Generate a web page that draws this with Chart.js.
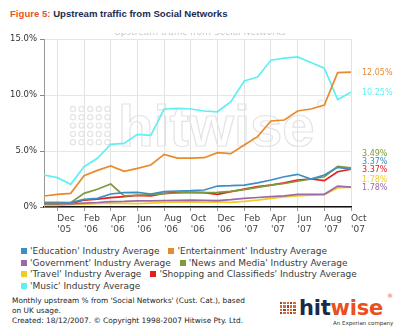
<!DOCTYPE html>
<html>
<head>
<meta charset="utf-8">
<script src="https://cdn.jsdelivr.net/npm/chart.js@4.4.1/dist/chart.umd.min.js"></script>
<style>
    body { margin: 0; background: #fff; }
    #page { position: relative; width: 400px; height: 335px; overflow: hidden; font-family: "DejaVu Sans", Verdana, sans-serif; }
    #heading { position: absolute; left: 0; top: 0; width: 400px; height: 33px; background: #fff; z-index: 2; }
    #heading .t { position: absolute; left: 10px; top: 8px; font: bold 9.6px "Liberation Sans", Arial, sans-serif; color: #1c2b4f; white-space: nowrap; }
    #heading .t b { color: #e8552a; }
    #chartBox { position: absolute; left: 0; top: 0; width: 400px; height: 240px; }
    #legend { position: absolute; left: 21px; top: 246px; width: 370px; font-size: 9px; line-height: 11.7px; color: #3a3a3a; }
    #legend .item { display: inline-block; margin-right: 9px; white-space: nowrap; }
    #legend .sw { display: inline-block; width: 6px; height: 6px; margin-right: 3px; vertical-align: 0px; }
    #footer { position: absolute; left: 12px; top: 296px; font-size: 7.4px; line-height: 10px; color: #222; white-space: nowrap; }
    #dots { position: absolute; left: 280px; top: 302px; width: 17px; height: 14px; }
    #dots i { position: absolute; width: 2.4px; height: 2.4px; }
    #logo { position: absolute; left: 299px; top: 298px; font: bold 21px/21px "DejaVu Sans", sans-serif; letter-spacing: -0.2px; color: #1b2a4a; }
    #logo span { color: #e8501e; }
    #reg { position: absolute; left: 387px; top: 292px; font-size: 6px; color: #e8501e; }
    #experian { position: absolute; left: 333px; top: 320px; font-size: 5.5px; color: #333; white-space: nowrap; }
</style>
</head>
<body>
<div id="page">
    <div id="heading"><div class="t"><b>Figure 5:</b> Upstream traffic from Social Networks</div></div>
    <div id="chartBox"><canvas id="trafficChart" width="400" height="240"></canvas></div>
    <div id="legend"></div>
    <div id="footer">Monthly upstream % from 'Social Networks' (Cust. Cat.), based<br>on UK usage.<br>Created: 18/12/2007. &copy; Copyright 1998-2007 Hitwise Pty. Ltd.</div>
    <div id="dots"></div>
    <div id="logo">hit<span>wise</span></div>
    <div id="reg">&reg;</div>
    <div id="experian">An Experian company</div>
</div>

<script>
// Months Nov '05 .. Oct '07
const months = [
    "Nov '05", "Dec '05", "Jan '06", "Feb '06", "Mar '06", "Apr '06", "May '06", "Jun '06",
    "Jul '06", "Aug '06", "Sep '06", "Oct '06", "Nov '06", "Dec '06", "Jan '07", "Feb '07",
    "Mar '07", "Apr '07", "May '07", "Jun '07", "Jul '07", "Aug '07", "Sep '07", "Oct '07"
];

const seriesNames = [
    "'Education' Industry Average",
    "'Entertainment' Industry Average",
    "'Government' Industry Average",
    "'News and Media' Industry Average",
    "'Travel' Industry Average",
    "'Shopping and Classifieds' Industry Average",
    "'Music' Industry Average"
];

// upstream share, %
const education     = [0.33, 0.33, 0.39, 0.68, 0.77, 1.16, 1.28, 1.31, 1.16, 1.37, 1.43, 1.46, 1.52, 1.87, 1.9, 1.96, 2.15, 2.41, 2.7, 2.92, 2.5, 2.86, 3.54, 3.37];
const entertainment = [0.98, 1.13, 1.22, 2.8, 3.27, 3.66, 3.18, 3.45, 3.75, 4.7, 4.37, 4.37, 4.4, 4.85, 4.76, 5.54, 6.28, 7.68, 7.77, 8.57, 8.75, 9.1, 12.0, 12.05];
const government    = [0.3, 0.3, 0.28, 0.35, 0.4, 0.48, 0.5, 0.55, 0.55, 0.57, 0.6, 0.62, 0.6, 0.57, 0.65, 0.77, 0.85, 0.92, 1.0, 1.13, 1.13, 1.13, 1.87, 1.78];
const newsMedia     = [0.42, 0.42, 0.39, 1.22, 1.58, 2.05, 1.0, 1.05, 1.1, 1.2, 1.25, 1.3, 1.28, 1.3, 1.4, 1.55, 1.75, 1.95, 2.1, 2.3, 2.5, 2.7, 3.62, 3.49];
const travel        = [0.15, 0.15, 0.2, 0.25, 0.3, 0.35, 0.33, 0.3, 0.35, 0.4, 0.43, 0.45, 0.42, 0.45, 0.42, 0.5, 0.62, 0.77, 0.9, 1.0, 1.06, 1.1, 1.7, 1.78];
const shopping      = [0.27, 0.25, 0.27, 0.62, 0.7, 0.83, 0.92, 1.04, 1.0, 1.22, 1.3, 1.3, 1.28, 1.13, 1.37, 1.6, 1.82, 1.96, 2.15, 2.41, 2.5, 2.35, 3.15, 3.37];
const music         = [2.86, 2.62, 2.02, 3.6, 4.35, 5.6, 5.68, 6.49, 6.4, 8.75, 8.8, 8.75, 8.57, 8.5, 9.4, 11.25, 11.6, 13.1, 13.3, 13.4, 12.9, 12.4, 9.6, 10.25];

const seriesValues = [education, entertainment, government, newsMedia, travel, shopping, music];
const seriesColors = ['#3d8ec4', '#ea8a2c', '#9b6aa6', '#7d9a3c', '#f2cc26', '#e41e1e', '#5ff0f2'];

const yTicks = [0, 5, 10, 15];

// order of the end-of-line value labels, top to bottom
const labelOrder = [1, 6, 3, 0, 5, 4, 2];

const FONT = '"DejaVu Sans", Verdana, sans-serif';

// faint hitwise watermark behind the lines
const watermark = {
    id: 'watermark',
    beforeDatasetsDraw(chart) {
        const ctx = chart.ctx;
        ctx.save();
        ctx.strokeStyle = '#e4e4e4';
        ctx.lineWidth = 1.2;
        for (let r = 0; r < 5; r++) {
            for (let c = 0; c < 5; c++) {
                ctx.beginPath();
                ctx.arc(73 + c * 8.6, 109 + r * 8.3, 2.6, 0, Math.PI * 2);
                ctx.stroke();
            }
        }
        ctx.font = 'bold 58px "Liberation Sans", Arial, sans-serif';
        ctx.strokeText('hitwise', 118, 146);
        ctx.beginPath();
        ctx.arc(322, 104, 4, 0, Math.PI * 2);
        ctx.stroke();
        ctx.restore();
    }
};

// faded chart caption, half hidden under the heading strip
const caption = {
    id: 'caption',
    afterDraw(chart) {
        const ctx = chart.ctx;
        ctx.save();
        ctx.fillStyle = '#c6c6c6';
        ctx.font = '9px ' + FONT;
        ctx.textAlign = 'center';
        ctx.textBaseline = 'middle';
        ctx.fillText('Upstream traffic from Social Networks', 200, 33);
        ctx.restore();
    }
};

// final values at the right edge, nudged apart so they don't overlap
const endLabels = {
    id: 'endLabels',
    afterDatasetsDraw(chart) {
        const { ctx, chartArea, scales } = chart;
        const items = labelOrder.map(i => {
            const v = seriesValues[i][seriesValues[i].length - 1];
            return { i, v, y: scales.y.getPixelForValue(v) + 1 };
        });
        for (let k = items.length - 2; k >= 0; k--) {
            items[k].y = Math.min(items[k].y, items[k + 1].y - 8);
        }
        ctx.save();
        ctx.font = '8px ' + FONT;
        ctx.textBaseline = 'middle';
        items.forEach(it => {
            ctx.fillStyle = seriesColors[it.i];
            ctx.fillText(it.v.toFixed(2) + '%', chartArea.right + 11, it.y);
        });
        ctx.restore();
    }
};

new Chart(document.getElementById('trafficChart'), {
    type: 'line',
    data: {
        labels: months,
        datasets: seriesNames.map((name, i) => ({
            label: name,
            data: seriesValues[i],
            borderColor: seriesColors[i],
            backgroundColor: seriesColors[i],
            borderWidth: 1.7,
            pointRadius: 0,
            tension: 0,
            fill: false
        }))
    },
    options: {
        responsive: false,
        animation: false,
        layout: { padding: { top: 39, right: 49, left: 0, bottom: 0 } },
        plugins: {
            legend: { display: false },
            tooltip: { enabled: false }
        },
        scales: {
            x: {
                type: 'category',
                offset: false,
                grid: {
                    offset: false,
                    color: c => (c.index % 2 ? '#e2e2e2' : 'rgba(0,0,0,0)'),
                    tickColor: c => (c.index % 2 ? '#999' : 'rgba(0,0,0,0)'),
                    tickLength: 4
                },
                border: { color: '#111', width: 1.5 },
                ticks: {
                    autoSkip: false,
                    maxRotation: 0,
                    align: 'start',
                    padding: 2,
                    color: '#444',
                    font: { size: 9, family: FONT },
                    callback: (v, i) => (i % 2 ? months[i].split(' ') : '')
                },
                afterFit: s => { s.height = 33; }
            },
            y: {
                min: 0,
                max: 15,
                afterBuildTicks: s => { s.ticks = yTicks.map(v => ({ value: v })); },
                grid: { color: '#e6e6e6', tickColor: '#888', tickLength: 4 },
                border: { color: '#999', width: 1 },
                ticks: {
                    padding: 3,
                    color: '#333',
                    font: { size: 8.5, family: FONT },
                    callback: v => (v === 0 ? '0%' : v.toFixed(1) + '%')
                },
                afterFit: s => { s.width = 44; }
            }
        }
    },
    plugins: [watermark, endLabels, caption]
});

// legend under the chart
const legendBox = document.getElementById('legend');
seriesNames.forEach((name, i) => {
    const item = document.createElement('span');
    item.className = 'item';
    const sw = document.createElement('span');
    sw.className = 'sw';
    sw.style.background = seriesColors[i];
    item.appendChild(sw);
    item.appendChild(document.createTextNode(name));
    legendBox.appendChild(item);
});

// logo dot grid
const dotBox = document.getElementById('dots');
for (let r = 0; r < 4; r++) {
    for (let c = 0; c < 5; c++) {
        const d = document.createElement('i');
        d.style.left = (c * 3.3) + 'px';
        d.style.top = (r * 3.3) + 'px';
        d.style.background = (c + r) % 3 === 0 ? '#8a4632' : '#e0662e';
        dotBox.appendChild(d);
    }
}
</script>
</body>
</html>
